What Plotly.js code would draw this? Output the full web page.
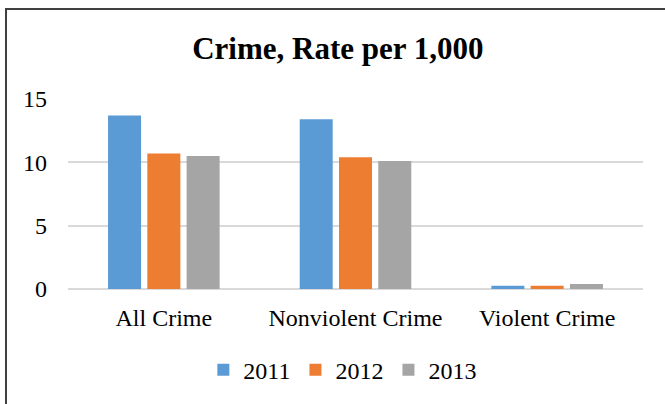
<!DOCTYPE html>
<html>
<head>
<meta charset="utf-8">
<script src="https://cdn.plot.ly/plotly-3.0.1.min.js"></script>
<style>
  html, body { margin: 0; padding: 0; background: #fff; overflow: hidden; width: 665px; height: 404px; }
  #chart { width: 665px; height: 404px; position: absolute; left: 0; top: 0; }
  #frameTop { position: absolute; left: 5px; top: 8px; width: 660px; height: 2px; background: #404040; pointer-events: none; }
  #frameLeft { position: absolute; left: 5px; top: 8px; width: 2px; height: 396px; background: #404040; pointer-events: none; }
</style>
</head>
<body>
<div id="chart"></div>
<div id="frameTop"></div>
<div id="frameLeft"></div>
<script>
const categories = ["All Crime", "Nonviolent Crime", "Violent Crime"];
const seriesNames = ["2011", "2012", "2013"];
const values2011 = [13.7, 13.4, 0.26];
const values2012 = [10.7, 10.4, 0.26];
const values2013 = [10.5, 10.1, 0.39];
const colors = ["#5B9BD5", "#ED7D31", "#A5A5A5"];
const yTicks = [0, 5, 10, 15];

const allValues = [values2011, values2012, values2013];
const data = allValues.map((vals, i) => ({
  type: "bar",
  name: seriesNames[i],
  x: categories,
  y: vals,
  marker: { color: colors[i] },
  hoverinfo: "x+y+name"
}));

const font = "Liberation Serif";

const layout = {
  width: 665,
  height: 404,
  paper_bgcolor: "#fff",
  plot_bgcolor: "#fff",
  margin: { l: 68, r: 22, t: 99, b: 114 },
  font: { family: font, color: "#000", size: 24 },
  title: {
    text: "<b>Crime, Rate per 1,000</b>",
    font: { family: font, size: 31, color: "#000" },
    x: 0.508, xanchor: "center",
    y: 0.881, yanchor: "middle", yref: "container"
  },
  barmode: "group",
  bargap: 0.385,
  bargroupgap: 0.16,
  xaxis: {
    type: "category",
    showgrid: false,
    showline: false,
    zeroline: false,
    ticks: "",
    tickfont: { family: font, size: 24, color: "#000" },
    ticklabelstandoff: 12
  },
  yaxis: {
    range: [0, 15],
    tickvals: yTicks,
    ticktext: yTicks.map(String),
    showgrid: true,
    gridcolor: "#D9D9D9",
    gridwidth: 2,
    zeroline: true,
    zerolinecolor: "#D9D9D9",
    zerolinewidth: 2,
    showline: false,
    ticks: "",
    tickfont: { family: font, size: 24, color: "#000" },
    ticklabelstandoff: 20
  },
  showlegend: true,
  legend: {
    orientation: "h",
    x: 0.478, xanchor: "center",
    y: -0.42, yanchor: "middle",
    font: { family: font, size: 24, color: "#000" },
    itemwidth: 30,
    traceorder: "normal"
  }
};

Plotly.newPlot("chart", data, layout, { staticPlot: true, displayModeBar: false });
</script>
</body>
</html>
